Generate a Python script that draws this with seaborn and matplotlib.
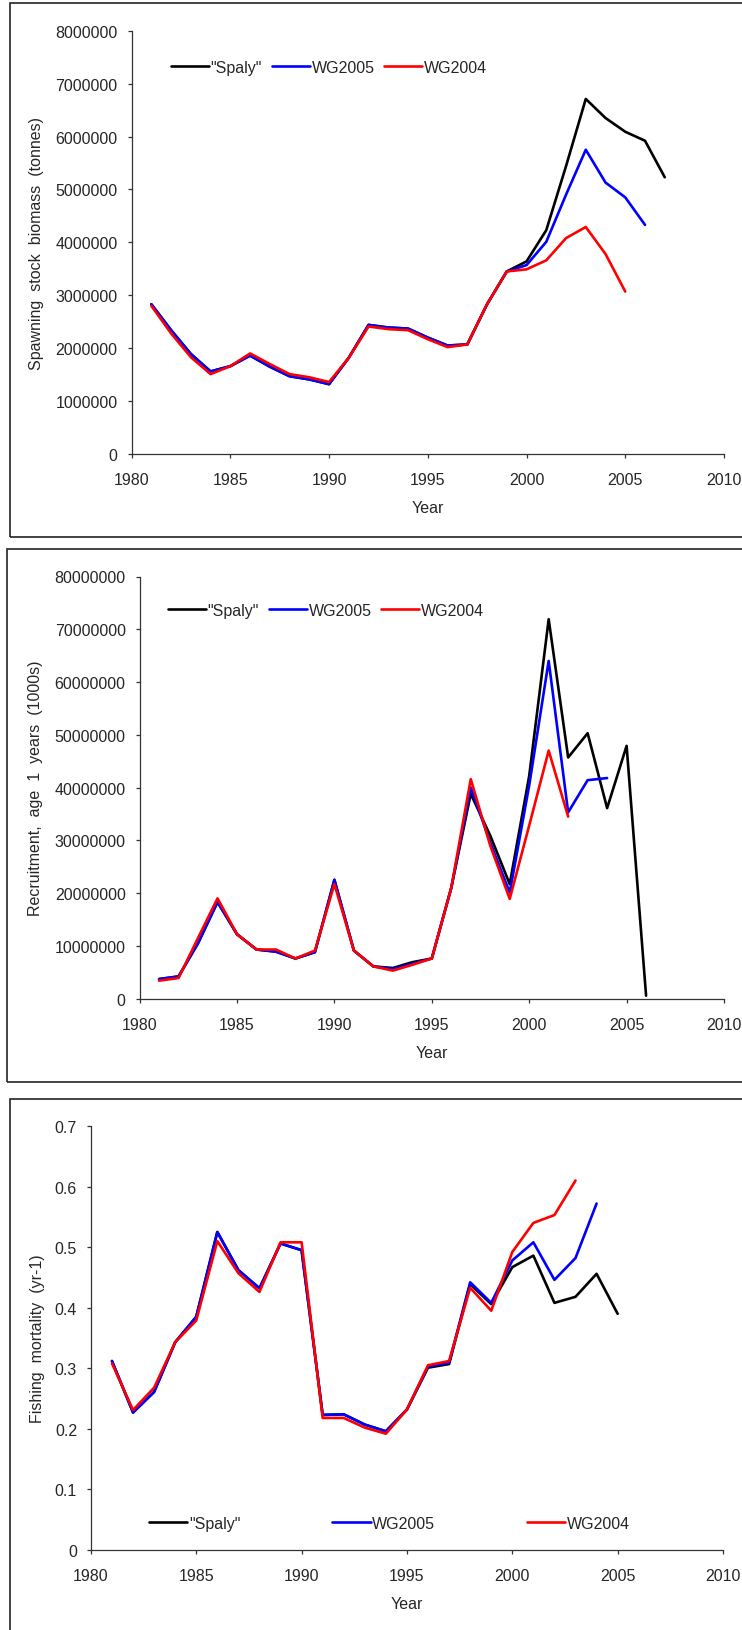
import matplotlib
matplotlib.use("Agg")
import matplotlib.pyplot as plt
import seaborn as sns
import pandas as pd
from matplotlib.patches import Rectangle
from matplotlib.ticker import FuncFormatter

# Spawning stock biomass (tonnes)
ssb_years_spaly = list(range(1981, 2008))
ssb_spaly = [2830000, 2340000, 1890000, 1560000, 1660000, 1860000, 1650000, 1470000, 1410000, 1320000,
             1820000, 2440000, 2390000, 2370000, 2200000, 2050000, 2070000, 2830000, 3450000, 3640000,
             4230000, 5440000, 6710000, 6350000, 6090000, 5920000, 5230000]
ssb_years_wg2005 = list(range(1981, 2007))
ssb_wg2005 = [2830000, 2340000, 1890000, 1560000, 1660000, 1860000, 1650000, 1470000, 1410000, 1320000,
              1820000, 2440000, 2390000, 2370000, 2200000, 2050000, 2070000, 2830000, 3450000, 3570000,
              4010000, 4900000, 5750000, 5130000, 4850000, 4330000]
ssb_years_wg2004 = list(range(1981, 2006))
ssb_wg2004 = [2800000, 2280000, 1830000, 1510000, 1660000, 1900000, 1700000, 1510000, 1450000, 1360000,
              1820000, 2410000, 2360000, 2340000, 2170000, 2020000, 2070000, 2830000, 3450000, 3490000,
              3660000, 4080000, 4290000, 3780000, 3070000]

# Recruitment, age 1 (1000s)
rec_years_spaly = list(range(1981, 2007))
rec_spaly = [3700000, 4200000, 10500000, 18300000, 12200000, 9300000, 8900000, 7600000, 8800000, 22500000,
             9100000, 6100000, 5800000, 6900000, 7600000, 21000000, 38800000, 30900000, 21700000, 42200000,
             71900000, 45700000, 50300000, 36100000, 47900000, 550000]
rec_years_wg2005 = list(range(1981, 2005))
rec_wg2005 = [3700000, 4200000, 10500000, 18300000, 12200000, 9300000, 8900000, 7600000, 8800000, 22500000,
              9100000, 6100000, 5600000, 6600000, 7600000, 21000000, 40000000, 29600000, 20100000, 40400000,
              64000000, 35300000, 41400000, 41800000]
rec_years_wg2004 = list(range(1981, 2003))
rec_wg2004 = [3400000, 3900000, 11500000, 19000000, 12200000, 9300000, 9300000, 7600000, 9100000, 21700000,
              9100000, 6100000, 5300000, 6400000, 7600000, 21000000, 41600000, 29000000, 18900000, 32800000,
              47000000, 34500000]

# Fishing mortality (yr-1)
f_years_spaly = list(range(1981, 2006))
f_spaly = [0.312, 0.227, 0.261, 0.343, 0.385, 0.525, 0.462, 0.432, 0.506, 0.495,
           0.223, 0.224, 0.207, 0.196, 0.232, 0.301, 0.307, 0.439, 0.406, 0.467,
           0.486, 0.408, 0.418, 0.456, 0.390]
f_years_wg2005 = list(range(1981, 2005))
f_wg2005 = [0.312, 0.227, 0.261, 0.343, 0.385, 0.525, 0.462, 0.432, 0.506, 0.495,
            0.223, 0.224, 0.207, 0.196, 0.232, 0.303, 0.309, 0.442, 0.408, 0.478,
            0.508, 0.446, 0.482, 0.572]
f_years_wg2004 = list(range(1981, 2004))
f_wg2004 = [0.308, 0.231, 0.268, 0.343, 0.379, 0.510, 0.457, 0.426, 0.508, 0.508,
            0.218, 0.218, 0.202, 0.192, 0.232, 0.305, 0.312, 0.433, 0.395, 0.492,
            0.540, 0.553, 0.610]

labels = ['"Spaly"', 'WG2005', 'WG2004']
colors = ['black', '#0000FF', '#FF0000']

sns.set_style("ticks")
plt.rcParams['font.family'] = ['Liberation Sans', 'DejaVu Sans']

W, H = 742, 1631
fig = plt.figure(figsize=(W / 100, H / 100), dpi=100)


def px_axes(left, right, top, bottom):
    return fig.add_axes([left / W, 1 - bottom / H, (right - left) / W, (bottom - top) / H])


def draw_panel(ax, series, ylim, ystep, ylabel, ylabel_x, fmt, legend_kw):
    for (yrs, vals), lab, col in zip(series, labels, colors):
        df = pd.DataFrame({'Year': yrs, 'value': vals})
        sns.lineplot(data=df, x='Year', y='value', ax=ax, color=col, lw=1.9, label=lab)
    ax.set_xlim(1980, 2010)
    ax.set_ylim(0, ylim)
    ax.set_xticks(range(1980, 2011, 5))
    n = int(round(ylim / ystep))
    ax.set_yticks([i * ystep for i in range(n + 1)])
    ax.yaxis.set_major_formatter(FuncFormatter(fmt))
    for s in ['top', 'right']:
        ax.spines[s].set_visible(False)
    for s in ['left', 'bottom']:
        ax.spines[s].set_color('#333333')
        ax.spines[s].set_linewidth(0.9)
    ax.tick_params(axis='x', length=3, width=0.9, color='#333333', pad=10, labelsize=11.5)
    ax.tick_params(axis='y', length=3, width=0.9, color='#333333', pad=7, labelsize=11.5)
    ax.set_xlabel('Year', fontsize=11.5)
    ax.set_ylabel(ylabel, fontsize=11.5)
    ax.xaxis.set_label_coords(0.5, -0.127)
    ax.xaxis.label.set_va('center')
    ax.yaxis.set_label_coords(ylabel_x, 0.5)
    ax.yaxis.label.set_va('center')
    ax.legend(frameon=False, ncol=3, fontsize=11.5, handlelength=2.4, handletextpad=0.1,
              borderpad=0, borderaxespad=0, **legend_kw)


int_fmt = lambda v, p: f'{int(round(v))}'
dec_fmt = lambda v, p: f'{v:g}'

ax1 = px_axes(131.6, 724, 31.7, 455)
draw_panel(ax1, [(ssb_years_spaly, ssb_spaly), (ssb_years_wg2005, ssb_wg2005), (ssb_years_wg2004, ssb_wg2004)],
           8000000, 1000000, 'Spawning  stock  biomass  (tonnes)', -0.16, int_fmt,
           dict(loc='center left', bbox_to_anchor=(0.066, 0.914), columnspacing=0.6))

ax2 = px_axes(139.6, 724, 577.5, 999.6)
draw_panel(ax2, [(rec_years_spaly, rec_spaly), (rec_years_wg2005, rec_wg2005), (rec_years_wg2004, rec_wg2004)],
           80000000, 10000000, 'Recruitment,  age  1  years  (1000s)', -0.178, int_fmt,
           dict(loc='center left', bbox_to_anchor=(0.048, 0.92), columnspacing=0.6))

ax3 = px_axes(90.9, 723, 1127, 1551)
draw_panel(ax3, [(f_years_spaly, f_spaly), (f_years_wg2005, f_wg2005), (f_years_wg2004, f_wg2004)],
           0.7, 0.1, 'Fishing  mortality  (yr-1)', -0.085, dec_fmt,
           dict(loc='center left', bbox_to_anchor=(0.092, 0.0625), columnspacing=5.75))

# panel frames
for x0, top, bottom in [(9.5, 4, 538), (7, 550, 1083), (9.5, 1100, 1700)]:
    fig.patches.append(Rectangle((x0 / W, 1 - bottom / H), (800 - x0) / W, (bottom - top) / H,
                                 transform=fig.transFigure, fill=False, lw=1.2, ec='#222222'))

fig.savefig('out.png', dpi=100)
